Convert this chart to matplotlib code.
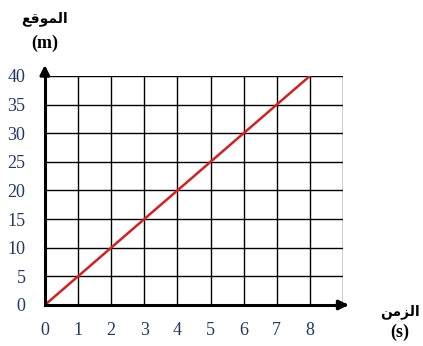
import matplotlib.pyplot as plt

# data
times = [0, 8]
positions = [0, 40]
x_ticks = [0, 1, 2, 3, 4, 5, 6, 7, 8]
y_ticks = [0, 5, 10, 15, 20, 25, 30, 35, 40]

# Arabic labels in presentation forms (matplotlib does no shaping)
pos_label = "\uFECA\uFED7\uFEEE\uFEE4\uFEDF\uFE8D"   # الموقع
time_label = "\uFEE6\uFEE3\uFEB0\uFEDF\uFE8D"        # الزمن

NAVY = '#1f3864'

fig = plt.figure(figsize=(4.23, 3.46), dpi=100)
ax = fig.add_axes([0.106, 0.1185, 0.705, 0.662])

ax.set_xlim(0, 9)
ax.set_ylim(0, 40)
for x in range(1, 10):
    ax.axvline(x, color='black', lw=1.0, zorder=1)
for y in range(5, 45, 5):
    ax.axhline(y, color='black', lw=1.0, zorder=1)

ax.plot(times, positions, color='#d42020', lw=1.8, zorder=3)

for side in ['top', 'right']:
    ax.spines[side].set_visible(False)
for side in ['left', 'bottom']:
    ax.spines[side].set_linewidth(2.2)
    ax.spines[side].set_zorder(4)

# arrows
ax.annotate('', xy=(9.25, 0), xytext=(8.9, 0),
            arrowprops=dict(arrowstyle='-|>', color='black', lw=2.2, mutation_scale=14),
            annotation_clip=False)
ax.annotate('', xy=(0, 42.4), xytext=(0, 39.5),
            arrowprops=dict(arrowstyle='-|>', color='black', lw=2.2, mutation_scale=14),
            annotation_clip=False)

ax.set_xticks(x_ticks)
ax.set_yticks(y_ticks)
ax.set_xticklabels([str(v) for v in x_ticks], fontfamily='Liberation Serif', fontsize=13, color=NAVY)
ax.set_yticklabels([str(v) for v in y_ticks], fontfamily='Liberation Serif', fontsize=13, color=NAVY)
ax.tick_params(length=0)
ax.tick_params(axis='x', pad=12)
ax.tick_params(axis='y', pad=14)

fig.text(0.106, 0.945, pos_label, ha='center', va='center', fontsize=10, fontweight='bold',
         family=['DejaVu Sans'])
fig.text(0.106, 0.876, '(m)', ha='center', va='center', fontsize=13, fontweight='bold',
         family='Liberation Serif')
fig.text(0.945, 0.098, time_label, ha='center', va='center', fontsize=10, fontweight='bold',
         family=['DejaVu Sans'])
fig.text(0.945, 0.040, '(s)', ha='center', va='center', fontsize=13, fontweight='bold',
         family='Liberation Serif')

fig.savefig('out.png', dpi=100)
